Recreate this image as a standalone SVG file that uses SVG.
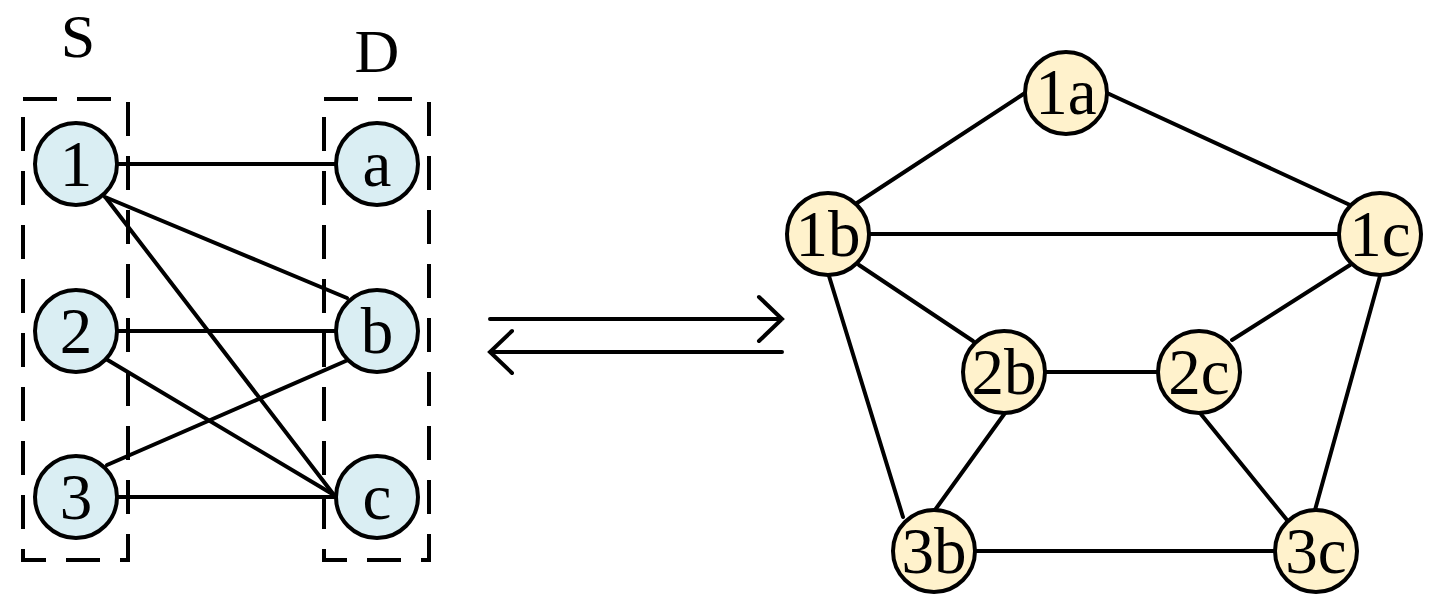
<svg xmlns="http://www.w3.org/2000/svg" width="1435" height="611" viewBox="0 0 1435 611">
<style>
.box{fill:none;stroke:#000;stroke-width:4;stroke-dasharray:34 20}
.e{stroke:#000;stroke-width:4;fill:none;stroke-linecap:round}
.s{fill:#DAEEF3;stroke:#000;stroke-width:4}
.g{fill:#FFF2CC;stroke:#000;stroke-width:4}
text{font-family:"Liberation Serif","Times New Roman",serif;font-size:65px;fill:#000;text-anchor:middle}
.t{font-size:62px}
</style>
<rect width="1435" height="611" fill="#fff"/>
<g id="set-boxes">
<rect class="box" x="23" y="99" width="105" height="461"/>
<rect class="box" x="324" y="99" width="105" height="461"/>
<text class="t" x="78" y="57">S</text>
<text class="t" x="377" y="72">D</text>
</g>
<g id="connectors">
<line class="e" x1="118" y1="164" x2="336" y2="164"/>
<line class="e" x1="105" y1="197" x2="347" y2="298"/>
<line class="e" x1="106" y1="198" x2="334" y2="495"/>
<line class="e" x1="118" y1="331" x2="336" y2="331"/>
<line class="e" x1="106" y1="359" x2="334" y2="495"/>
<line class="e" x1="107" y1="465" x2="348" y2="360"/>
<line class="e" x1="118" y1="497" x2="336" y2="497"/>
<path class="e" d="M490 319 H782 M759 297 L782 319 L759 341"/>
<path class="e" d="M782 352 H490 M512 331 L490 352 L512 373"/>
<line class="e" x1="857" y1="203" x2="1025" y2="93"/>
<line class="e" x1="1107" y1="93" x2="1350" y2="205"/>
<line class="e" x1="869" y1="234" x2="1339" y2="234"/>
<line class="e" x1="859" y1="265" x2="973" y2="341"/>
<line class="e" x1="829" y1="276" x2="903" y2="517"/>
<line class="e" x1="1350" y1="265" x2="1232" y2="340"/>
<line class="e" x1="1380" y1="276" x2="1315" y2="510"/>
<line class="e" x1="1045" y1="372" x2="1158" y2="372"/>
<line class="e" x1="1005" y1="413" x2="935" y2="510"/>
<line class="e" x1="1200" y1="413" x2="1287" y2="520"/>
<line class="e" x1="975" y1="551" x2="1275" y2="551"/>
</g>
<g id="n1"><circle class="s" cx="76" cy="164" r="41"/><text x="76" y="186">1</text></g>
<g id="n2"><circle class="s" cx="76" cy="331" r="41"/><text x="76" y="353">2</text></g>
<g id="n3"><circle class="s" cx="76" cy="497" r="41"/><text x="76" y="519">3</text></g>
<g id="na"><circle class="s" cx="377" cy="164" r="41"/><text x="377" y="186">a</text></g>
<g id="nb"><circle class="s" cx="377" cy="331" r="41"/><text x="377" y="353">b</text></g>
<g id="nc"><circle class="s" cx="377" cy="497" r="41"/><text x="377" y="519">c</text></g>
<g id="n1a"><circle class="g" cx="1066" cy="93" r="41"/><text x="1066" y="114">1a</text></g>
<g id="n1b"><circle class="g" cx="828" cy="234" r="41"/><text x="828" y="256">1b</text></g>
<g id="n1c"><circle class="g" cx="1380" cy="234" r="41"/><text x="1380" y="256">1c</text></g>
<g id="n2b"><circle class="g" cx="1004" cy="372" r="41"/><text x="1004" y="394">2b</text></g>
<g id="n2c"><circle class="g" cx="1199" cy="372" r="41"/><text x="1199" y="394">2c</text></g>
<g id="n3b"><circle class="g" cx="934" cy="551" r="41"/><text x="934" y="573">3b</text></g>
<g id="n3c"><circle class="g" cx="1316" cy="551" r="41"/><text x="1316" y="573">3c</text></g>
</svg>
